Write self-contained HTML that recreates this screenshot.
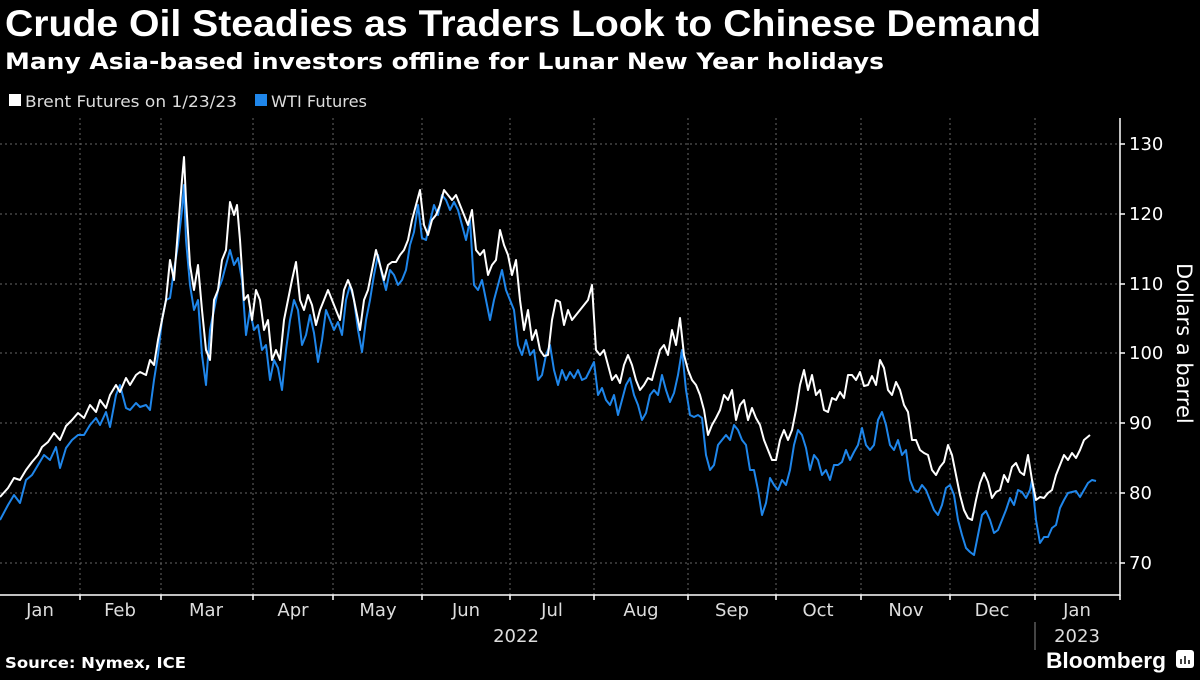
<!DOCTYPE html>
<html><head><meta charset="utf-8"><style>
body{margin:0;background:#000;width:1200px;height:675px;overflow:hidden;font-family:"Liberation Sans",sans-serif;color:#fff}
</style></head><body>
<svg width="1200" height="675" xmlns="http://www.w3.org/2000/svg">
<text x="5" y="36" font-family="Liberation Sans" font-weight="bold" font-size="37" fill="#fff" textLength="1036" lengthAdjust="spacingAndGlyphs">Crude Oil Steadies as Traders Look to Chinese Demand</text>
<text x="5" y="69" font-family="DejaVu Sans" font-weight="bold" font-size="22" fill="#fff" textLength="879" lengthAdjust="spacingAndGlyphs">Many Asia-based investors offline for Lunar New Year holidays</text>
<rect x="9" y="94" width="12" height="12" fill="#fff"/>
<text x="25" y="107" font-family="DejaVu Sans" font-size="16" fill="#ddd" textLength="212" lengthAdjust="spacingAndGlyphs">Brent Futures on 1/23/23</text>
<rect x="255" y="94" width="12" height="12" fill="#1f86ea"/>
<text x="271" y="107" font-family="DejaVu Sans" font-size="16" fill="#ddd" textLength="96" lengthAdjust="spacingAndGlyphs">WTI Futures</text>
<g stroke="#666" stroke-width="1" stroke-dasharray="2,3">
<line x1="0" x2="1120" y1="144" y2="144"/><line x1="0" x2="1120" y1="214" y2="214"/><line x1="0" x2="1120" y1="284" y2="284"/><line x1="0" x2="1120" y1="353" y2="353"/><line x1="0" x2="1120" y1="423" y2="423"/><line x1="0" x2="1120" y1="493" y2="493"/><line x1="0" x2="1120" y1="563" y2="563"/>
<line x1="80" x2="80" y1="118" y2="595"/><line x1="161" x2="161" y1="118" y2="595"/><line x1="253" x2="253" y1="118" y2="595"/><line x1="333" x2="333" y1="118" y2="595"/><line x1="422" x2="422" y1="118" y2="595"/><line x1="510" x2="510" y1="118" y2="595"/><line x1="594" x2="594" y1="118" y2="595"/><line x1="688" x2="688" y1="118" y2="595"/><line x1="776" x2="776" y1="118" y2="595"/><line x1="861" x2="861" y1="118" y2="595"/><line x1="950" x2="950" y1="118" y2="595"/><line x1="1035" x2="1035" y1="118" y2="595"/>
</g>
<g stroke="#fff" stroke-width="1.5" fill="none">
<path d="M0 595H1120V118"/>
<path d="M80 595v5M161 595v5M253 595v5M333 595v5M422 595v5M510 595v5M594 595v5M688 595v5M776 595v5M861 595v5M950 595v5M1035 595v5M1120 595v5"/>
<path d="M1120 144h5M1120 214h5M1120 284h5M1120 353h5M1120 423h5M1120 493h5M1120 563h5"/>
</g>
<g font-family="DejaVu Sans" font-size="18" fill="#fff">
<text x="1129" y="150">130</text><text x="1129" y="220">120</text><text x="1129" y="290">110</text><text x="1129" y="359">100</text><text x="1129" y="429">90</text><text x="1129" y="499">80</text><text x="1129" y="569">70</text>
</g>
<text transform="translate(1177,263) rotate(90)" font-family="DejaVu Sans" font-size="21" fill="#fff">Dollars a barrel</text>
<g font-family="DejaVu Sans" font-size="18" fill="#ddd" text-anchor="middle">
<text x="40" y="616">Jan</text><text x="120" y="616">Feb</text><text x="206" y="616">Mar</text><text x="293" y="616">Apr</text><text x="378" y="616">May</text><text x="466" y="616">Jun</text><text x="552" y="616">Jul</text><text x="641" y="616">Aug</text><text x="732" y="616">Sep</text><text x="818" y="616">Oct</text><text x="906" y="616">Nov</text><text x="992" y="616">Dec</text><text x="1077" y="616">Jan</text>
<text x="516" y="642">2022</text><text x="1077" y="642">2023</text>
</g>
<line x1="1035" x2="1035" y1="622" y2="650" stroke="#888"/>
<text x="5" y="668" font-family="DejaVu Sans" font-weight="bold" font-size="15" fill="#fff" textLength="181" lengthAdjust="spacingAndGlyphs">Source: Nymex, ICE</text>
<text x="1046" y="668" font-family="Liberation Sans" font-weight="bold" font-size="22" fill="#fff" textLength="120" lengthAdjust="spacingAndGlyphs">Bloomberg</text>
<rect x="1176" y="650" width="18" height="18" rx="3" fill="#fff"/>
<path d="M1181 664v-5M1185 664v-8M1189 664v-4" stroke="#000" stroke-width="1.5"/>
<polyline fill="none" stroke="#1f86ea" stroke-width="2" stroke-linejoin="round" points="0,520 8,505 14,495 20,503 26,480 32,475 38,465 44,455 50,460 56,447 60,468 66,448 72,440 78,435 84,435 90,425 96,418 100,425 106,412 110,427 116,395 120,385 126,408 130,410 136,403 140,407 146,405 150,410 154,380 158,355 162,320 166,300 170,298 174,270 178,245 182,210 184,185 186,240 190,285 194,310 198,300 202,355 206,385 210,330 214,310 218,290 222,280 226,265 230,250 234,265 238,258 242,280 246,335 250,310 254,330 258,325 262,350 266,345 270,380 274,360 278,368 282,390 286,350 290,320 294,300 298,310 302,345 306,335 310,315 314,333 318,362 322,340 326,310 330,320 334,330 338,322 342,335 346,300 350,285 354,300 358,330 362,352 366,320 370,300 374,275 378,255 382,275 386,290 390,270 394,275 398,285 402,280 406,270 410,245 414,232 418,205 422,238 426,240 430,222 434,205 438,215 442,195 446,200 450,210 454,202 458,210 462,225 466,240 470,220 474,285 478,290 482,280 486,300 490,320 494,300 498,285 502,270 506,290 510,300 514,310 518,345 522,355 526,340 530,355 534,350 538,380 542,375 546,355 550,345 554,370 558,385 562,370 566,380 570,372 574,378 578,370 582,380 586,378 590,370 594,362 598,395 602,388 606,400 610,405 614,395 618,415 622,400 626,385 630,378 634,395 638,405 642,420 646,413 650,395 654,390 658,395 662,375 666,390 670,402 674,393 678,375 682,350 686,390 690,415 694,417 698,415 702,418 706,455 710,470 714,465 718,445 722,440 726,435 730,440 734,425 738,430 742,440 746,445 750,470 754,470 758,490 762,515 766,503 770,478 774,485 778,490 782,480 786,485 790,470 794,445 798,430 802,435 806,448 810,470 814,455 818,460 822,475 826,470 830,480 834,465 838,465 842,462 846,450 850,460 854,452 858,445 862,428 866,445 870,450 874,445 878,420 882,412 886,425 890,445 894,450 898,440 902,455 906,450 910,480 914,490 918,492 922,485 926,490 930,500 934,510 938,515 942,505 946,488 950,485 954,495 958,520 962,535 966,548 970,552 974,555 978,535 982,515 986,511 990,520 994,533 998,530 1002,520 1006,510 1010,498 1014,505 1018,490 1022,492 1026,498 1030,490 1032,480 1036,520 1040,543 1044,537 1048,537 1052,528 1056,525 1060,508 1064,500 1068,493 1072,492 1076,491 1080,497 1084,490 1088,483 1092,480 1096,481"/>
<polyline fill="none" stroke="#fff" stroke-width="2" stroke-linejoin="round" points="0,497 8,488 14,478 20,480 26,470 32,462 38,455 42,447 48,442 54,433 60,440 66,426 72,420 78,413 84,418 90,405 96,412 100,400 106,408 110,395 116,385 120,392 126,378 130,385 136,375 140,372 146,375 150,360 154,365 158,340 162,320 166,300 170,260 174,280 178,230 182,180 184,157 186,200 190,265 194,290 198,265 202,310 206,350 210,360 214,300 218,290 222,260 226,250 230,202 234,215 237,205 240,240 244,300 248,295 252,320 256,290 260,300 264,330 268,320 272,360 276,350 280,360 284,320 288,300 292,280 296,262 300,300 304,310 308,295 312,305 316,325 320,310 324,300 328,290 332,300 336,310 340,320 344,290 348,280 352,290 356,310 360,330 364,300 368,290 372,270 376,250 380,265 384,280 388,265 392,262 396,262 400,255 404,250 408,240 412,220 416,205 420,190 424,225 428,235 432,220 436,215 440,205 444,190 448,195 452,200 456,195 460,205 464,215 468,225 472,210 476,250 480,255 484,250 488,275 492,265 496,260 500,230 504,245 508,255 512,275 516,260 520,300 524,330 528,310 532,340 536,330 540,350 544,356 548,355 552,320 556,300 560,302 564,325 568,310 572,320 576,315 580,310 584,305 588,300 592,285 596,350 600,355 604,350 608,365 612,380 616,375 620,383 624,365 628,355 632,365 636,380 640,390 644,385 648,378 652,380 656,365 660,350 664,345 668,355 672,330 676,345 680,318 684,355 688,370 692,380 696,385 700,395 704,410 708,435 712,425 716,418 720,410 724,395 728,400 732,390 736,420 740,405 744,400 748,420 752,408 756,418 760,425 764,440 768,450 772,460 776,460 780,440 784,430 788,440 792,430 796,410 800,385 804,370 808,390 812,375 816,395 820,390 824,410 828,412 832,398 836,400 840,392 844,398 848,375 852,375 856,380 860,372 864,386 868,385 872,376 876,385 880,360 884,368 888,390 892,395 896,382 900,390 904,405 908,412 912,440 916,440 920,450 924,453 928,455 932,470 936,475 940,467 944,462 948,445 952,455 956,475 960,495 964,510 968,518 972,520 976,500 980,483 984,473 988,482 992,498 996,492 1000,490 1004,475 1008,482 1012,467 1016,463 1020,472 1024,475 1028,455 1032,480 1036,500 1040,497 1044,498 1048,493 1052,490 1056,475 1060,465 1064,455 1068,460 1072,453 1076,458 1080,450 1084,440 1090,435"/>
</svg>
</body></html>
